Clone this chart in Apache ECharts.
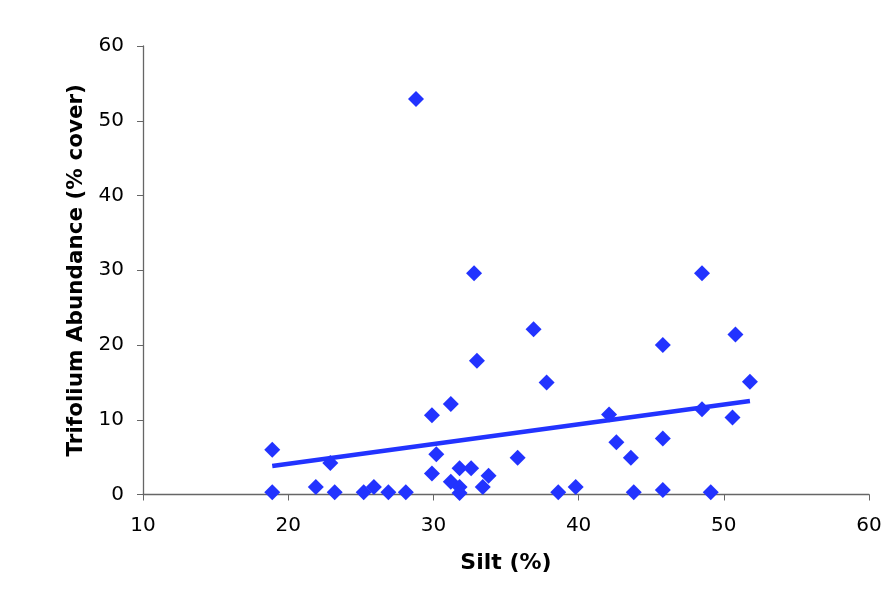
<!DOCTYPE html>
<html>
<head>
<meta charset="utf-8">
<script src="https://cdn.jsdelivr.net/npm/echarts@6/dist/echarts.min.js"></script>
<style>html,body{margin:0;padding:0;background:#fff;}#c{width:890px;height:608px;}</style>
</head>
<body>
<div id="c"></div>
<script>
var siltValues = [18.9, 18.9, 21.9, 22.9, 23.2, 25.2, 25.9, 26.9, 28.1, 28.8,
  29.9, 30.2, 29.9, 31.2, 31.2, 31.8, 32.6, 31.8, 31.8, 33.4, 33.8, 32.8, 33.0,
  35.8, 36.9, 37.8, 38.6, 39.8, 42.1, 42.6, 43.6, 43.8, 45.8, 45.8, 45.8,
  48.5, 48.5, 49.1, 50.6, 50.8, 51.8];
var trifoliumValues = [6.0, 0.3, 1.0, 4.2, 0.3, 0.3, 1.0, 0.3, 0.3, 52.9,
  10.6, 5.4, 2.8, 12.1, 1.7, 3.5, 3.5, 1.0, 0.2, 1.0, 2.5, 29.6, 17.9,
  4.9, 22.1, 15.0, 0.3, 1.0, 10.7, 7.0, 4.9, 0.3, 20.0, 7.5, 0.6,
  29.6, 11.4, 0.3, 10.3, 21.4, 15.1];
var trendX = [18.9, 51.8];
var trendY = [3.8, 12.5];
var xTicks = [10, 20, 30, 40, 50, 60];
var yTicks = [0, 10, 20, 30, 40, 50, 60];

var points = siltValues.map(function (x, i) { return [x, trifoliumValues[i]]; });
var trend = trendX.map(function (x, i) { return [x, trendY[i]]; });
var font = 'DejaVu Sans, Verdana, sans-serif';
var chart = echarts.init(document.getElementById('c'), null, {renderer: 'canvas'});
chart.setOption({
  backgroundColor: '#ffffff',
  animation: false,
  grid: {left: 143, right: 21, top: 46, bottom: 113.5, containLabel: false},
  xAxis: {
    type: 'value', min: xTicks[0], max: xTicks[xTicks.length - 1], interval: 10,
    name: 'Silt (%)', nameLocation: 'middle', nameGap: 58,
    nameTextStyle: {fontFamily: font, fontWeight: 'bold', fontSize: 22, color: '#000'},
    axisLine: {show: true, onZero: false, lineStyle: {color: '#666', width: 1.3}},
    axisTick: {show: true, inside: false, length: 6, lineStyle: {color: '#666'}},
    axisLabel: {fontFamily: font, fontSize: 20, color: '#000', margin: 21},
    splitLine: {show: false}
  },
  yAxis: {
    type: 'value', min: yTicks[0], max: yTicks[yTicks.length - 1], interval: 10,
    name: 'Trifolium Abundance (% cover)', nameLocation: 'middle', nameGap: 56,
    nameTextStyle: {fontFamily: font, fontWeight: 'bold', fontSize: 21.5, color: '#000'},
    axisLine: {show: true, onZero: false, lineStyle: {color: '#666', width: 1.3}},
    axisTick: {show: true, inside: false, length: 6, lineStyle: {color: '#666'}},
    axisLabel: {fontFamily: font, fontSize: 20, color: '#000', margin: 19},
    splitLine: {show: false}
  },
  series: [
    {
      type: 'line', data: trend, showSymbol: false, symbol: 'none',
      lineStyle: {color: '#2233ff', width: 4.5}, z: 2, silent: true
    },
    {
      type: 'scatter', data: points, symbol: 'diamond', symbolSize: 16,
      itemStyle: {color: '#2233ff', opacity: 1}, z: 3
    }
  ]
});
</script>
</body>
</html>
